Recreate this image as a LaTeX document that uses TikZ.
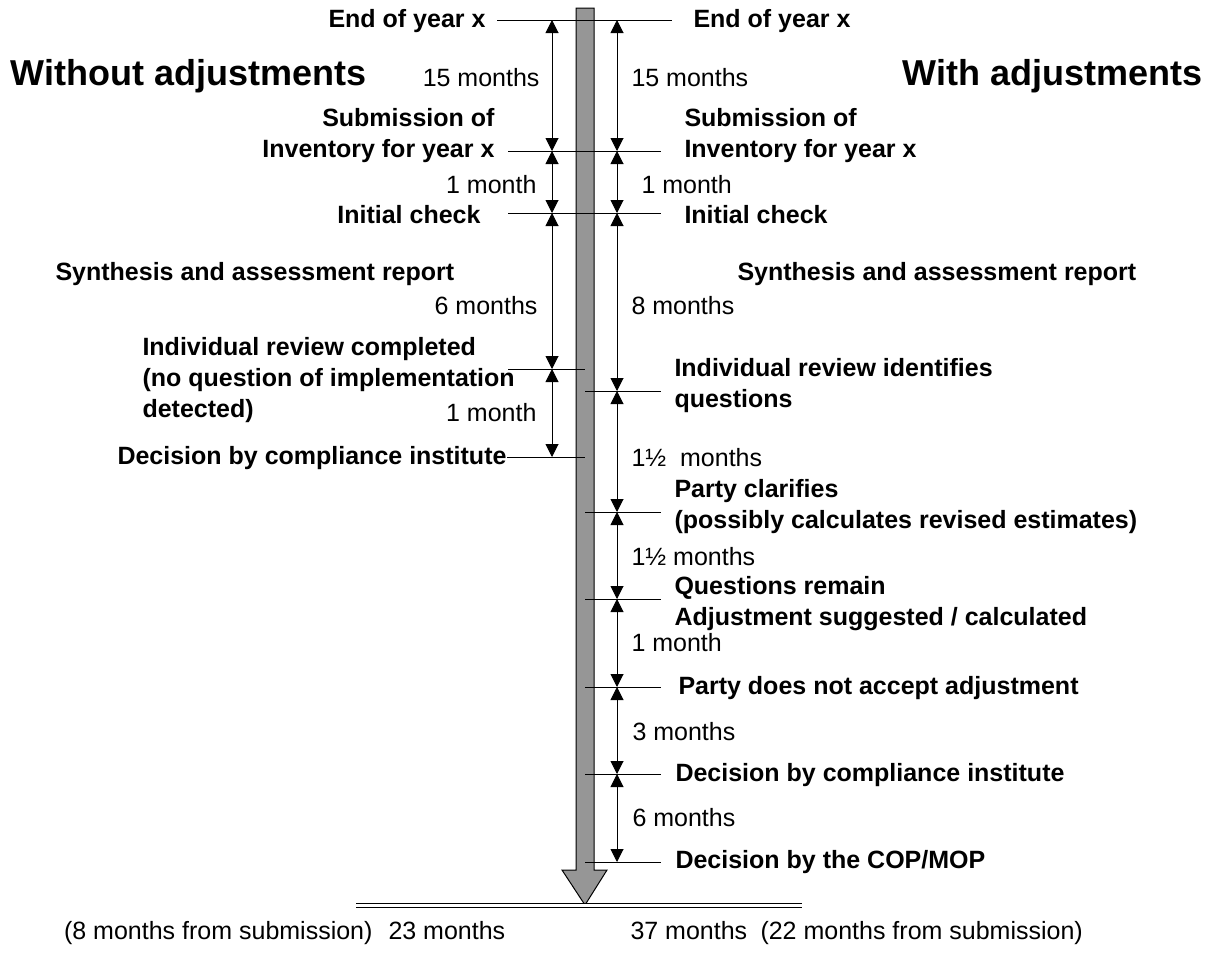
\documentclass[tikz,border=0pt]{standalone}
\usepackage{fontspec}
\setmainfont{Liberation Sans}
\usetikzlibrary{arrows.meta}
\definecolor{bargray}{RGB}{150,150,150}

\begin{document}
\begin{tikzpicture}[x=0.5pt, y=-0.5pt, line width=0.5pt,
  evt/.style={font=\bfseries\fontsize{12.5}{15.5}\selectfont, inner sep=0pt},
  dur/.style={font=\fontsize{12.5}{15.5}\selectfont, inner sep=0pt},
  side/.style={font=\bfseries\fontsize{18}{21}\selectfont, inner sep=0pt},
  span/.style={{Triangle[length=6.5pt,width=6.5pt]}-{Triangle[length=6.5pt,width=6.5pt]}}]
  \useasboundingbox (0,0) rectangle (1216,953);
  % Time bar
  \filldraw[fill=bargray] (576,8) -- (594,8) -- (594,870) -- (607,870) -- (585,905)
    -- (562,870) -- (576,870) -- cycle;
  \draw[double, double distance=1.5pt] (356,905) -- (802,905);
  % Event ticks
  \draw (497,20) -- (672,20);
  \draw (508,151) -- (661,151);
  \draw (508,213) -- (661,213);
  \draw (508,369) -- (585,369);
  \draw (507,457) -- (585,457);
  \foreach \y in {391,512,599,687,774,862}
    \draw (585,\y) -- (661,\y);
  % Spans, without adjustments
  \coordinate (lA) at (552,20);
  \coordinate (lB) at (552,151);
  \coordinate (lC) at (552,213);
  \coordinate (lD) at (552,369);
  \coordinate (lE) at (552,457);
  \foreach \a/\b in {lA/lB, lB/lC, lC/lD, lD/lE}
    \draw[span] (\a) -- (\b);
  % Spans, with adjustments
  \coordinate (rA) at (617,20);
  \coordinate (rB) at (617,151);
  \coordinate (rC) at (617,213);
  \coordinate (rD) at (617,391);
  \coordinate (rE) at (617,512);
  \coordinate (rF) at (617,599);
  \coordinate (rG) at (617,687);
  \coordinate (rH) at (617,774);
  \coordinate (rI) at (617,862);
  \foreach \a/\b in {rA/rB, rB/rC, rC/rD, rD/rE, rE/rF, rF/rG, rG/rH, rH/rI}
    \draw[span] (\a) -- (\b);
  % Left labels
  \node[side, anchor=west] (without) at (10,76) {Without adjustments};
  \node[evt, anchor=east] (lend) at (486,21) {End of year x};
  \node[dur, anchor=east] (l15) at (540,78) {15 months};
  \node[evt, anchor=east, align=right] (lsub) at (495,136) {Submission of\\Inventory for year x};
  \node[dur, anchor=east] (l1a) at (537,185) {1 month};
  \node[evt, anchor=east] (lini) at (481,215) {Initial check};
  \node[evt, anchor=west] (lsyn) at (55,274) {Synthesis and assessment report};
  \node[dur, anchor=east] (l6) at (538,306) {6 months};
  \node[evt, anchor=west, align=left] (lrev) at (142,380) {Individual review completed\\(no question of implementation\\detected)};
  \node[dur, anchor=east] (l1b) at (537,413) {1 month};
  \node[evt, anchor=east] (ldec) at (507,458) {Decision by compliance institute};
  % Right labels
  \node[side, anchor=east] (with) at (1203,76) {With adjustments};
  \node[evt, anchor=west] (rend) at (693,21) {End of year x};
  \node[dur, anchor=west] (r15) at (631,78) {15 months};
  \node[evt, anchor=west, align=left] (rsub) at (684,136) {Submission of\\Inventory for year x};
  \node[dur, anchor=west] (r1a) at (641,185) {1 month};
  \node[evt, anchor=west] (rini) at (684,215) {Initial check};
  \node[evt, anchor=west] (rsyn) at (737,274) {Synthesis and assessment report};
  \node[dur, anchor=west] (r8) at (631,306) {8 months};
  \node[evt, anchor=west, align=left] (rrev) at (674,386) {Individual review identifies\\questions};
  \node[dur, anchor=west] (r1h) at (631,458) {1½\ \ months};
  \node[evt, anchor=west, align=left] (rcla) at (674,507) {Party clarifies\\(possibly calculates revised estimates)};
  \node[dur, anchor=west] (r1hb) at (631,557) {1½ months};
  \node[evt, anchor=west, align=left] (rque) at (674,604) {Questions remain\\Adjustment suggested / calculated};
  \node[dur, anchor=west] (r1b) at (631,643) {1 month};
  \node[evt, anchor=west] (rnot) at (678,688) {Party does not accept adjustment};
  \node[dur, anchor=west] (r3) at (632,732) {3 months};
  \node[evt, anchor=west] (rdec) at (675,775) {Decision by compliance institute};
  \node[dur, anchor=west] (r6) at (632,818) {6 months};
  \node[evt, anchor=west] (rcop) at (675,862) {Decision by the COP/MOP};
  % Totals
  \node[dur, anchor=base east] (lsum) at (373,939) {(8 months from submission)};
  \node[dur, anchor=base west] (ltot) at (388,939) {23 months};
  \node[dur, anchor=base west] (rtot) at (630,939) {37 months};
  \node[dur, anchor=base west] (rsum) at (760,939) {(22 months from submission)};
\end{tikzpicture}
\end{document}
